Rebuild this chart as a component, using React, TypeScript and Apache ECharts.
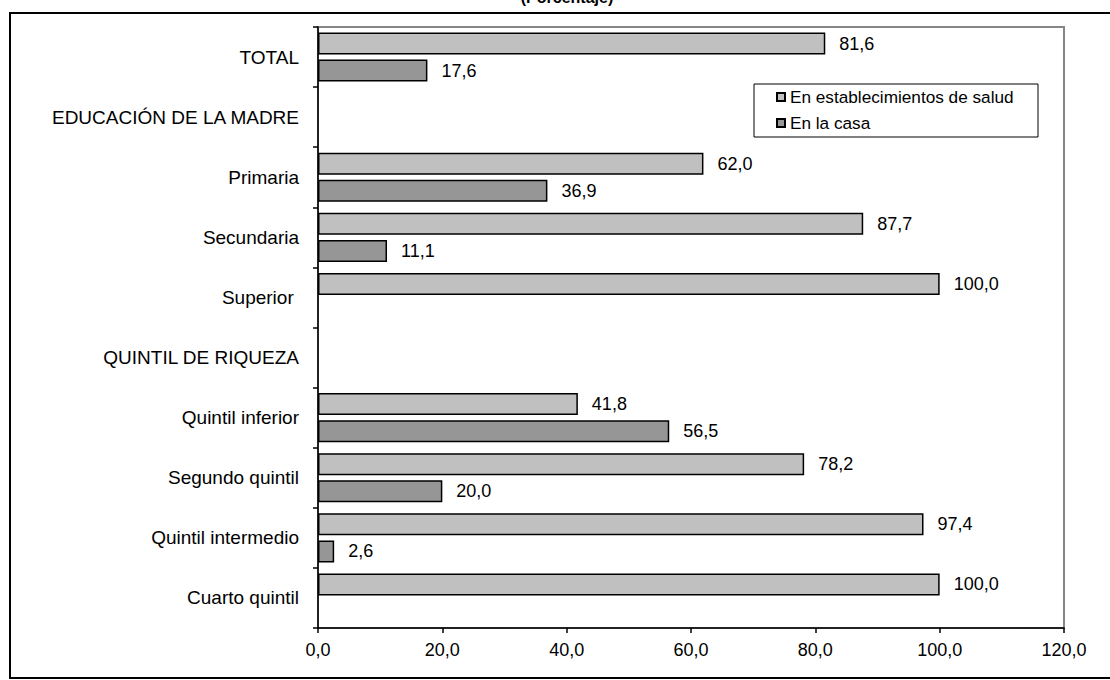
import React, { useEffect, useRef } from "react";
import * as echarts from "echarts";

const categories = [
  "TOTAL",
  "EDUCACIÓN DE LA MADRE",
  "Primaria",
  "Secundaria",
  "Superior ",
  "QUINTIL DE RIQUEZA",
  "Quintil inferior",
  "Segundo quintil",
  "Quintil intermedio",
  "Cuarto quintil",
];
const enEstablecimientos = [81.6, null, 62.0, 87.7, 100.0, null, 41.8, 78.2, 97.4, 100.0];
const enLaCasa = [17.6, null, 36.9, 11.1, null, null, 56.5, 20.0, 2.6, null];
const seriesNames = ["En establecimientos de salud", "En la casa"];
const xTicks = { min: 0, max: 120, interval: 20 };

const FONT = "'Liberation Sans', Arial, sans-serif";
const fmt = (v: number) => v.toFixed(1).replace(".", ",");

export default function App() {
  const ref = useRef<HTMLDivElement>(null);
  useEffect(() => {
    if (!ref.current) return;
    const chart = echarts.init(ref.current, null, { renderer: "svg" });
    const label = {
      show: true,
      position: "right",
      distance: 14,
      color: "#000",
      fontSize: 18,
      fontFamily: FONT,
      formatter: (p: any) => (p.value == null ? "" : fmt(p.value)),
    };
    chart.setOption({
      animation: false,
      backgroundColor: "#fff",
      textStyle: { fontFamily: FONT },
      grid: {
        left: 318,
        top: 27,
        width: 746,
        height: 601,
        show: true,
        borderColor: "#868686",
        borderWidth: 2,
        backgroundColor: "transparent",
      },
      legend: {
        orient: "vertical",
        left: 776,
        top: 88,
        padding: 0,
        itemWidth: 8,
        itemHeight: 8,
        itemGap: 8,
        icon: "rect",
        textStyle: { fontSize: 17.2, color: "#000", fontFamily: FONT, lineHeight: 18 },
        data: seriesNames,
      },
      xAxis: {
        type: "value",
        min: xTicks.min,
        max: xTicks.max,
        interval: xTicks.interval,
        splitLine: { show: false },
        axisLine: { show: true, lineStyle: { color: "#000", width: 1.5 } },
        axisTick: { show: true, length: 5, lineStyle: { color: "#000", width: 1.5 } },
        axisLabel: {
          color: "#000",
          fontSize: 18,
          fontFamily: FONT,
          margin: 13,
          formatter: (v: number) => fmt(v),
        },
      },
      yAxis: {
        type: "category",
        inverse: true,
        data: categories,
        axisLine: { show: true, lineStyle: { color: "#000", width: 1.5 } },
        axisTick: { show: true, length: 5, lineStyle: { color: "#000", width: 1.5 } },
        axisLabel: {
          color: "#000",
          fontSize: 19,
          fontFamily: FONT,
          margin: 19,
          interval: 0,
        },
      },
      series: [
        {
          name: seriesNames[0],
          type: "bar",
          data: enEstablecimientos,
          barWidth: 22,
          barGap: "23%",
          itemStyle: { color: "#c0c0c0", borderColor: "#000", borderWidth: 1.5 },
          label,
        },
        {
          name: seriesNames[1],
          type: "bar",
          data: enLaCasa,
          barWidth: 22,
          barGap: "23%",
          itemStyle: { color: "#969696", borderColor: "#000", borderWidth: 1.5 },
          label,
        },
      ],
      graphic: [
        {
          type: "rect",
          shape: { x: 10, y: 13, width: 1110, height: 665 },
          style: { fill: "none", stroke: "#000", lineWidth: 2 },
          silent: true,
          z: -1,
        },
        {
          type: "rect",
          shape: { x: 754, y: 84, width: 284, height: 53 },
          style: { fill: "#fff", stroke: "#000", lineWidth: 1 },
          silent: true,
          z: 0,
        },
        {
          type: "text",
          x: 567,
          y: 5,
          style: {
            text: "(Porcentaje)",
            fontSize: 16,
            fontWeight: "bold",
            fontFamily: FONT,
            fill: "#000",
            textAlign: "center",
            textVerticalAlign: "bottom",
          },
        },
      ],
    });
    return () => chart.dispose();
  }, []);
  return (
    <div
      ref={ref}
      style={{ position: "absolute", left: 0, top: 0, width: 1110, height: 680 }}
    />
  );
}
